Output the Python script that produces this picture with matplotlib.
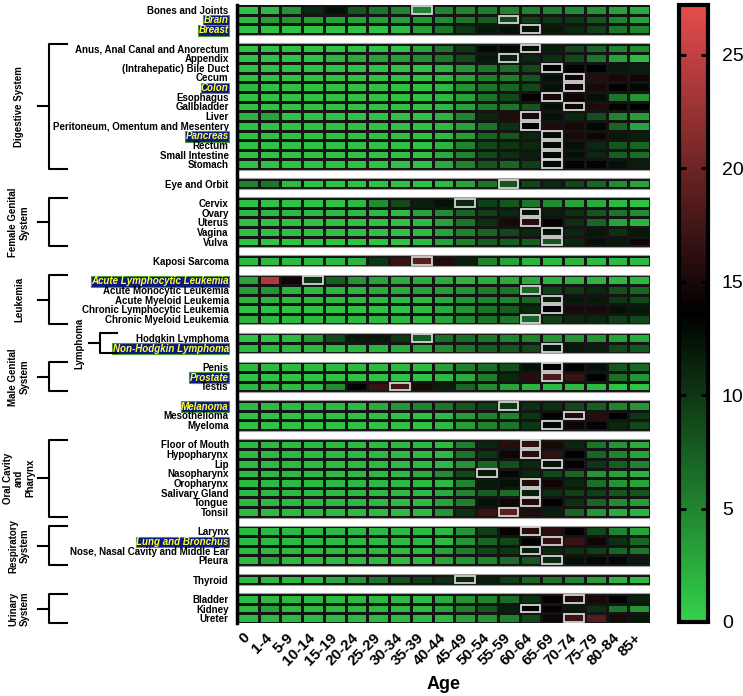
import numpy as np
import matplotlib.pyplot as plt
from matplotlib.colors import LinearSegmentedColormap, Normalize
from matplotlib.patches import Rectangle
from matplotlib.transforms import blended_transform_factory

plt.rcParams['font.family'] = ['Liberation Sans', 'DejaVu Sans']

ages = ["0", "1-4", "5-9", "10-14", "15-19", "20-24", "25-29", "30-34", "35-39",
        "40-44", "45-49", "50-54", "55-59", "60-64", "65-69", "70-74", "75-79",
        "80-84", "85+"]

############## values per block (rows x age groups) ##################
top_rows = ["Bones and Joints", "Brain", "Breast"]
top_vals = [
    [1, 1.5, 4, 11, 12.5, 8, 6, 5, 5, 5, 5, 5.5, 5, 5, 5, 4.5, 4, 3, 2.5],
    [1.5, 3.5, 4, 3.5, 3, 3, 3.5, 3.5, 4, 4.5, 6, 7.5, 9, 9.5, 10, 10, 8, 5, 3],
    [1, 1, 1, 1, 1, 1, 1, 1.5, 3.5, 6, 10, 12, 12.5, 12.5, 12, 11, 9.5, 6, 5],
]
top_peak = [8, 12, 13]

digestive_rows = ["Anus, Anal Canal and Anorectum", "Appendix", "(Intrahepatic) Bile Duct",
                  "Cecum", "Colon", "Esophagus", "Gallbladder", "Liver",
                  "Peritoneum, Omentum and Mesentery", "Pancreas", "Rectum",
                  "Small Intestine", "Stomach"]
digestive_vals = [
    [1, 1, 1, 1, 1, 1, 1, 1, 3, 6, 10, 13, 13, 12.5, 11.5, 9, 7, 5, 4.5],
    [1, 1, 1, 1, 2, 2.5, 3, 3.5, 4.5, 6, 9, 12, 11.5, 11, 10.5, 9, 6, 3, 1.5],
    [1, 1, 1, 1, 1, 1, 1, 1, 1, 2, 4, 6, 6.5, 9, 13.5, 14, 13.5, 12, 11.5],
    [1, 1, 1, 1, 1, 1, 1, 1, 1, 1.5, 3, 5.5, 5.5, 8, 12.5, 14.5, 16, 15, 14.5],
    [1.5, 1, 1, 1, 1, 1, 1, 1, 1, 1.5, 4, 6, 7, 9, 12.5, 14.5, 15, 13.5, 13],
    [1, 1, 1, 1, 1, 1, 1, 1, 1, 1.5, 3, 6, 9, 14, 15, 14.5, 12.5, 6, 4],
    [1, 1, 1, 1, 1, 1, 1, 1, 1, 1.5, 3, 5.5, 6, 8, 12.5, 14.5, 15.5, 14, 13.5],
    [2, 3, 1, 1, 1, 1, 1, 1, 1, 2, 5, 11, 15.5, 15, 12.5, 11, 8.5, 5, 3.5],
    [1, 1, 1, 1, 1, 1, 1, 1, 1, 1.5, 3, 6, 10.5, 13.5, 15.5, 15, 13, 7, 3],
    [1, 1, 1, 1, 1, 1, 1, 1, 1, 1.5, 3.5, 7, 8, 11, 13, 15, 14.5, 12, 11.5],
    [1, 1, 1, 1, 1, 1, 1, 1, 1, 2, 5, 9, 10, 11, 13, 12.5, 11, 8, 7],
    [1, 1, 1, 1, 1, 1, 1, 1, 1, 2.5, 5, 9, 10.5, 11.5, 13, 12.5, 11, 7.5, 6.5],
    [1, 1, 1, 1, 1, 1, 1, 1, 1, 2.5, 5, 8, 7, 9.5, 13, 14, 14, 12.5, 11.5],
]
digestive_peak = [13, 12, 14, 15, 15, 14, 15, 13, 13, 14, 14, 14, 14]

eye_rows = ["Eye and Orbit"]
eye_vals = [[5, 6, 1.5, 1, 1, 1, 1, 1, 1, 1.5, 3, 6, 8, 9, 11, 9, 7, 4.5, 3]]
eye_peak = [12]

female_rows = ["Cervix", "Ovary", "Uterus", "Vagina", "Vulva"]
female_vals = [
    [1, 1, 1, 1, 1, 1.5, 4.5, 9, 11.5, 12.5, 11, 9.5, 8, 6, 4.5, 3, 2.5, 1.5, 1],
    [1.5, 1.5, 1.5, 1.5, 1.5, 1.5, 1.5, 1.5, 3, 4.5, 7, 9.5, 11, 12.5, 11.5, 10.5, 8, 6, 4.5],
    [1, 1, 1, 1, 1, 1, 1, 1, 1.5, 3, 6, 10.5, 15, 16, 14, 10.5, 7, 3, 2],
    [1, 1, 1, 1, 1, 1, 1, 1, 1.5, 3, 5, 7, 9, 11, 12.5, 11, 12, 10.5, 12],
    [1, 1, 1, 1, 1, 1, 1, 1, 1.5, 3, 5.5, 7.5, 7.5, 7.5, 8, 11, 12.5, 12, 14.5],
]
female_peak = [10, 13, 13, 14, 14]

kaposi_rows = ["Kaposi Sarcoma"]
kaposi_vals = [[1.5, 1.5, 1.5, 1.5, 1.5, 2, 10, 17, 19, 15.5, 11.5, 5, 3, 2, 1.5, 2, 1.5, 1.5, 1.5]]
kaposi_peak = [8]

leukemia_rows = ["Acute Lymphocytic Leukemia", "Acute Monocytic Leukemia",
                 "Acute Myeloid Leukemia", "Chronic Lymphocytic Leukemia",
                 "Chronic Myeloid Leukemia"]
leukemia_vals = [
    [3, 24, 14.5, 10.5, 7.5, 4, 3, 2.5, 2.5, 2.5, 2, 2.5, 2.5, 2.5, 2, 2, 2, 1.5, 1.5],
    [3.5, 4, 2, 1.5, 2, 2, 2.5, 2.5, 3, 3.5, 4, 5.5, 6, 7, 9.5, 10, 11, 8.5, 7],
    [2, 2, 1.5, 1.5, 1.5, 1.5, 1.5, 1.5, 1.5, 2.5, 4, 5, 5, 7, 11.5, 12, 12, 10, 9],
    [1, 1, 1, 1, 1, 1, 1, 1, 1.5, 2.5, 4, 6, 7.5, 11, 13.5, 15, 15, 12.5, 12],
    [2, 1.5, 1.5, 1.5, 1.5, 1.5, 1.5, 1.5, 1.5, 3, 4.5, 6, 6, 7, 9.5, 11, 11, 9.5, 9],
]
leukemia_peak = [3, 13, 14, 14, 13]

lymphoma_rows = ["Hodgkin Lymphoma", "Non-Hodgkin Lymphoma"]
lymphoma_vals = [
    [1, 1, 1.5, 4, 9, 12, 12, 10, 8, 6.5, 6.5, 6, 5, 5, 4, 4, 4, 3, 2.5],
    [1.5, 1.5, 1.5, 1.5, 1.5, 2, 2, 2.5, 3, 4.5, 6, 7.5, 8, 9, 12.5, 12, 11.5, 9, 8],
]
lymphoma_peak = [8, 14]

male_rows = ["Penis", "Prostate", "Testis"]
male_vals = [
    [1.5, 1.5, 1.5, 1.5, 1.5, 1.5, 1.5, 1.5, 1.5, 3.5, 5.5, 6.5, 8.5, 12.5, 13.5, 13.5, 12.5, 8, 7],
    [1, 1, 1, 1, 1, 1, 1, 1, 1, 1.5, 2.5, 5.5, 11, 16, 18, 17, 13.5, 6.5, 4],
    [1.5, 1.5, 1.5, 1.5, 4.5, 13.5, 17, 17.5, 15, 11.5, 7, 4.5, 3, 2, 1.5, 1.5, 1.5, 1, 1],
]
male_peak = [14, 14, 7]

misc_rows = ["Melanoma", "Mesothelioma", "Myeloma"]
misc_vals = [
    [1.5, 1.5, 1.5, 1.5, 1.5, 1.5, 2.5, 4, 5, 6, 8, 9.5, 10, 10.5, 10.5, 9, 7.5, 5, 4],
    [1, 1, 1, 1, 1, 1, 1, 1, 1, 1.5, 3.5, 5, 5, 10, 13.5, 15.5, 16, 13.5, 10],
    [1, 1, 1, 1, 1, 1, 1, 1, 1, 1.5, 3.5, 5, 6, 10, 13, 14.5, 13.8, 11, 9],
]
misc_peak = [12, 15, 14]

oral_rows = ["Floor of Mouth", "Hypopharynx", "Lip", "Nasopharynx", "Oropharynx",
             "Salivary Gland", "Tongue", "Tonsil"]
oral_vals = [
    [1.5, 1.5, 1.5, 1.5, 1.5, 1.5, 1.5, 1.5, 1.5, 1.5, 5.5, 11, 16, 16.5, 15, 11, 6, 4, 2.5],
    [1.5, 1.5, 1.5, 1.5, 1.5, 1.5, 1.5, 1.5, 1.5, 1.5, 6, 10, 14.5, 16, 16.5, 13.5, 7, 5, 3],
    [1.5, 1.5, 1.5, 1.5, 1.5, 1.5, 1.5, 1.5, 1.5, 1.5, 4, 7, 8.5, 11, 12.5, 13.5, 10, 7.5, 5],
    [1.5, 1.5, 1.5, 1.5, 1.5, 1.5, 1.5, 1.5, 2.5, 4.5, 9, 12, 13, 11, 9, 7, 4, 3, 2],
    [1.5, 1.5, 1.5, 1.5, 1.5, 1.5, 1.5, 1.5, 1.5, 1.5, 5, 12, 12.5, 15.5, 14.5, 11, 6.5, 4, 3],
    [1.5, 1.5, 1.5, 1.5, 1.5, 1.5, 1.5, 1.5, 1.5, 2.5, 5, 7.5, 6.5, 11.5, 10.5, 9.5, 9.5, 8, 8],
    [1.5, 1.5, 1.5, 1.5, 1.5, 1.5, 1.5, 1.5, 1.5, 3, 5.5, 12.5, 14.5, 15.5, 13.5, 10.5, 7, 4.5, 3.5],
    [1.5, 1.5, 1.5, 1.5, 1.5, 1.5, 1.5, 1.5, 1.5, 4, 10.5, 17, 19, 15.5, 11.5, 7, 4, 2.5, 2],
]
oral_peak = [13, 13, 14, 11, 13, 13, 13, 12]

resp_rows = ["Larynx", "Lung and Bronchus", "Nose, Nasal Cavity and Middle Ear", "Pleura"]
resp_vals = [
    [1.5, 1.5, 1.5, 1.5, 1.5, 1.5, 1.5, 1.5, 1.5, 1.5, 4, 9.5, 14, 16, 16, 13.5, 9, 5, 3],
    [1.5, 1.5, 1.5, 1.5, 1.5, 1.5, 1.5, 1.5, 1.5, 1.5, 4, 7, 9, 13.5, 16.5, 17, 14.5, 10.5, 7],
    [1.5, 1.5, 1.5, 1.5, 1.5, 1.5, 1.5, 1.5, 1.5, 3, 5.5, 9, 10, 11.5, 11, 10.5, 9.5, 7, 6],
    [1.5, 3, 1.5, 1.5, 1.5, 1.5, 1.5, 1.5, 1.5, 3, 4, 5, 6.5, 8, 11, 12.5, 13, 13, 12],
]
resp_peak = [13, 14, 13, 14]

thyroid_rows = ["Thyroid"]
thyroid_vals = [[1.5, 1.5, 1.5, 1.5, 2.5, 4, 6, 8, 9.5, 10.5, 11, 11.5, 9.5, 7, 6, 5, 3.5, 2, 1.5]]
thyroid_peak = [10]

urinary_rows = ["Bladder", "Kidney", "Ureter"]
urinary_vals = [
    [1.5, 1.5, 1.5, 1.5, 1.5, 1.5, 1.5, 1.5, 1.5, 2.5, 4, 5, 6.5, 10.5, 14, 15.5, 15, 13.5, 11.5],
    [1.5, 3, 1.5, 1.5, 1.5, 1.5, 1.5, 1.5, 1.5, 3, 5.5, 8, 11.5, 13.5, 14, 12, 10.5, 6, 4],
    [1.5, 1.5, 1.5, 1.5, 1.5, 1.5, 1.5, 1.5, 1.5, 1.5, 3, 4, 5, 9, 14.5, 17, 18.5, 15, 12],
]
urinary_peak = [15, 13, 15]

# names shown in yellow italic on a navy box
marked = ["Brain", "Breast", "Colon", "Pancreas", "Acute Lymphocytic Leukemia",
          "Non-Hodgkin Lymphoma", "Prostate", "Melanoma", "Lung and Bronchus"]

blocks = [
    (None, top_rows, top_vals, top_peak),
    ("Digestive System", digestive_rows, digestive_vals, digestive_peak),
    (None, eye_rows, eye_vals, eye_peak),
    ("Female Genital\nSystem", female_rows, female_vals, female_peak),
    (None, kaposi_rows, kaposi_vals, kaposi_peak),
    ("Leukemia", leukemia_rows, leukemia_vals, leukemia_peak),
    ("Lymphoma", lymphoma_rows, lymphoma_vals, lymphoma_peak),
    ("Male Genital\nSystem", male_rows, male_vals, male_peak),
    (None, misc_rows, misc_vals, misc_peak),
    ("Oral Cavity\nand\nPharynx", oral_rows, oral_vals, oral_peak),
    ("Respiratory\nSystem", resp_rows, resp_vals, resp_peak),
    (None, thyroid_rows, thyroid_vals, thyroid_peak),
    ("Urinary\nSystem", urinary_rows, urinary_vals, urinary_peak),
]

############## Plot ##################
W, H = 743, 696
fig = plt.figure(figsize=(W / 100, H / 100), dpi=100)
ax = fig.add_axes([237 / W, 1 - 623 / H, 413 / W, 618 / H])

cmap = LinearSegmentedColormap.from_list("gbr", ["#33D14A", "#000000", "#E64C4C"])
norm = Normalize(vmin=0, vmax=27.2)

ncol = len(ages)
x_edges = np.arange(ncol + 1)
names, centers, groups = [], [], []
row = 0
mesh = None
for b, (label, rows, vals, peaks) in enumerate(blocks):
    start = row
    mesh = ax.pcolormesh(x_edges, np.arange(start, start + len(rows) + 1), np.array(vals),
                         cmap=cmap, norm=norm, edgecolors="#141414", linewidth=0.9)
    for i, (name, p) in enumerate(zip(rows, peaks)):
        names.append(name)
        centers.append(start + i + 0.5)
        ax.add_patch(Rectangle((p + 0.05, start + i + 0.1), 0.9, 0.8, fill=False,
                               edgecolor="#d4d4d4", linewidth=1.3, zorder=3))
    row += len(rows)
    if label is not None:
        groups.append((label, start, row))
    if b < len(blocks) - 1:
        # white spacer row between blocks
        ax.add_patch(Rectangle((0, row + 0.08), ncol, 0.84, facecolor="white",
                               edgecolor="#a0a0a0", linewidth=0.8, zorder=2))
        row += 1

ax.set_xlim(0, ncol)
ax.set_ylim(row, 0)
for s in ["top", "right", "bottom"]:
    ax.spines[s].set_visible(False)
ax.spines["left"].set_linewidth(2.5)
ax.tick_params(length=0)

ax.set_yticks(centers)
ax.set_yticklabels(names, fontsize=7, fontweight="bold")
ax.tick_params(axis="y", pad=6)
for t in ax.get_yticklabels():
    if t.get_text() in marked:
        t.set_color("#FFFF33")
        t.set_style("italic")
        t.set_bbox(dict(boxstyle="square,pad=0.04", facecolor="#0B1A7E",
                        edgecolor="#4E9A3A", linewidth=0.8))

ax.set_xticks(np.arange(ncol) + 0.5)
ax.set_xticklabels(ages, rotation=45, ha="right", va="center", rotation_mode="anchor",
                   fontsize=11, fontweight="bold")
ax.tick_params(axis="x", pad=9)
ax.set_xlabel("Age", fontsize=13, fontweight="bold", labelpad=6)

# group brackets on the left
tr = blended_transform_factory(fig.transFigure, ax.transData)
def fx(px):
    return px / W

for label, y0, y1 in groups:
    if label == "Lymphoma":
        xv, xr, xm, xt = 100, 117, 89, 79
    else:
        xv, xr, xm, xt = 49, 67, 38, 19
    ym = (y0 + y1) / 2
    ax.plot([fx(xr), fx(xv), fx(xv), fx(xr)], [y0, y0, y1, y1], color="black",
            linewidth=1.5, transform=tr, clip_on=False)
    ax.plot([fx(xm), fx(xv)], [ym, ym], color="black", linewidth=1.5,
            transform=tr, clip_on=False)
    ax.text(fx(xt), ym, label, rotation=90, ha="center", va="center",
            multialignment="center", fontsize=7, fontweight="bold",
            transform=tr, linespacing=1.15)

# colorbar
cax = fig.add_axes([679 / W, 1 - 622 / H, 29 / W, 617 / H])
cb = fig.colorbar(mesh, cax=cax, ticks=[0, 5, 10, 15, 20, 25])
cb.outline.set_linewidth(3)
cax.tick_params(labelsize=14, direction="in", length=5, width=2,
                left=True, right=True, pad=10)

plt.savefig("out.png", dpi=100)
